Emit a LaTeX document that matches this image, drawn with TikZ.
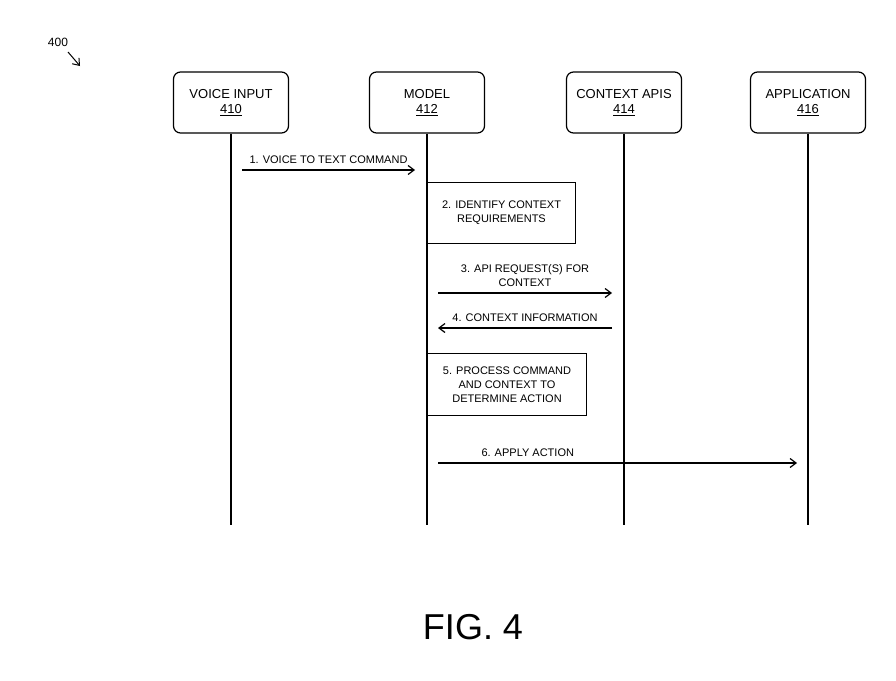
\documentclass[tikz,border=0pt]{standalone}
\usepackage{fontspec}
\setmainfont{Liberation Sans}
\usetikzlibrary{arrows.meta}
\begin{document}
\begin{tikzpicture}[x=1pt,y=-1pt,
  actor/.style={draw,line width=1.2pt,rounded corners=7pt,minimum width=115pt,minimum height=61pt,align=center,font=\fontsize{13}{15}\selectfont},
  procbox/.style={draw,line width=1pt,anchor=north west,align=center,font=\fontsize{11}{14}\selectfont,inner sep=6pt},
  life/.style={line width=1.2pt},
  msg/.style={line width=1.2pt,-{Straight Barb[length=6pt,width=9pt]}},
  lbl/.style={font=\fontsize{11}{14}\selectfont,align=center}]
\useasboundingbox (0,0) rectangle (896,680);
\node[actor] (vi) at (231,102.5) {VOICE INPUT\\\underline{410}};
\node[actor] (mo) at (427,102.5) {MODEL\\\underline{412}};
\node[actor] (ca) at (624,102.5) {CONTEXT APIS\\\underline{414}};
\node[actor] (ap) at (808,102.5) {APPLICATION\\\underline{416}};
\coordinate (viE) at (231,525);
\coordinate (moE) at (427,525);
\coordinate (caE) at (624,525);
\coordinate (apE) at (808,525);
\draw[life] (vi.south) -- (viE);
\draw[life] (mo.south) -- (moE);
\draw[life] (ca.south) -- (caE);
\draw[life] (ap.south) -- (apE);
\node[procbox,fill=white,minimum width=148pt,minimum height=61pt] (s2) at (427,182) {2. IDENTIFY CONTEXT\\REQUIREMENTS};
\node[procbox,fill=white,minimum width=159pt,minimum height=62pt] (s5) at (427,353) {5. PROCESS COMMAND\\AND CONTEXT TO\\DETERMINE ACTION};
\coordinate (a1s) at (242,170); \coordinate (a1e) at (415,170);
\draw[msg] (a1s) -- node[lbl,above=2pt] {1. VOICE TO TEXT COMMAND} (a1e);
\coordinate (a3s) at (438,293); \coordinate (a3e) at (612,293);
\draw[msg] (a3s) -- node[lbl,above=2pt] {3. API REQUEST(S) FOR\\CONTEXT} (a3e);
\coordinate (a4s) at (612,328); \coordinate (a4e) at (438,328);
\draw[msg] (a4s) -- node[lbl,above=2pt] {4. CONTEXT INFORMATION} (a4e);
\coordinate (a6s) at (438,463); \coordinate (a6e) at (797,463);
\draw[msg] (a6s) -- node[lbl,above=2pt,pos=0.25] {6. APPLY ACTION} (a6e);
\node[font=\fontsize{12}{14}\selectfont] (n400) at (58,42) {400};
\coordinate (r1) at (68,52); \coordinate (r2) at (80,66);
\draw[msg,line width=1pt] (r1) -- (r2);
\node[font=\fontsize{36}{40}\selectfont] (fig) at (473,627) {FIG. 4};
\end{tikzpicture}
\end{document}
